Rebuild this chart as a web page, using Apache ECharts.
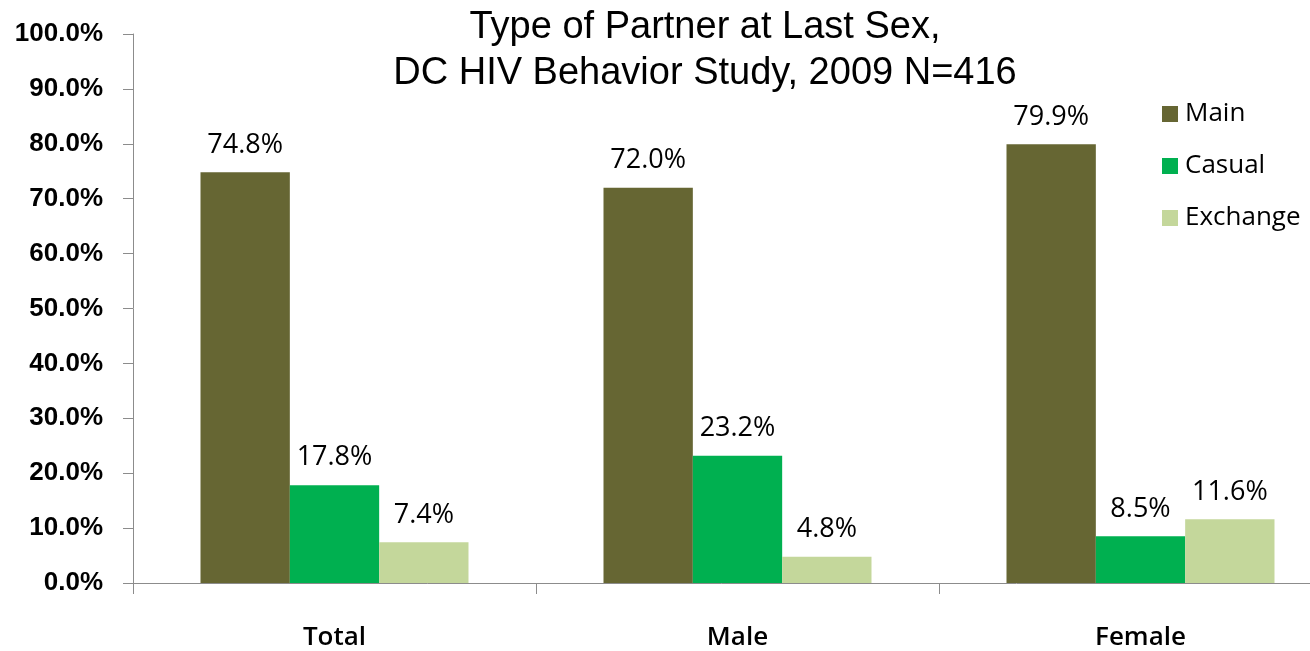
<!DOCTYPE html>
<html>
<head>
<meta charset="utf-8">
<script src="https://cdn.jsdelivr.net/npm/echarts@6/dist/echarts.min.js"></script>
<style>
  html, body { margin: 0; padding: 0; background: #fff; }
  #chart { width: 1310px; height: 651px; }
</style>
</head>
<body>
<div id="chart"></div>
<script>
// 数据
var categories = ['Total', 'Male', 'Female'];
var mainValues = [74.8, 72.0, 79.9];
var casualValues = [17.8, 23.2, 8.5];
var exchangeValues = [7.4, 4.8, 11.6];

var chart = echarts.init(document.getElementById('chart'));

var labelStyle = {
  show: true,
  position: 'top',
  distance: 14,
  fontFamily: 'Open Sans',
  fontSize: 27,
  color: '#000',
  formatter: function (p) { return p.value.toFixed(1) + '%'; }
};

var option = {
  animation: false,
  title: {
    text: 'Type of Partner at Last Sex,\nDC HIV Behavior Study, 2009 N=416',
    left: 700,
    top: 0,
    textAlign: 'center',
    textStyle: {
      fontFamily: 'Liberation Sans',
      fontWeight: 'normal',
      fontSize: 38,
      lineHeight: 46,
      color: '#000'
    }
  },
  legend: {
    orient: 'vertical',
    left: 1157,
    top: 96,
    itemWidth: 16,
    itemHeight: 16,
    itemGap: 26,
    icon: 'rect',
    textStyle: {
      fontFamily: 'Open Sans',
      fontSize: 26,
      lineHeight: 26,
      color: '#000',
      padding: [0, 0, 0, 2]
    },
    data: ['Main', 'Casual', 'Exchange']
  },
  // 绘图区超出画布右侧（原图被裁切）
  grid: {
    left: 133,
    width: 1209,
    top: 34,
    bottom: 68,
    outerBoundsMode: 'none',
    containLabel: false
  },
  xAxis: {
    type: 'category',
    data: categories,
    axisLine: { lineStyle: { color: '#8c8c8c', width: 1 } },
    axisTick: { show: true, length: 11, lineStyle: { color: '#8c8c8c' } },
    axisLabel: {
      margin: 42,
      fontFamily: 'Open Sans',
      fontWeight: 600,
      fontSize: 26,
      color: '#000'
    }
  },
  yAxis: {
    type: 'value',
    min: 0,
    max: 100,
    interval: 10,
    splitLine: { show: false },
    axisLine: { show: true, lineStyle: { color: '#8c8c8c', width: 1 } },
    axisTick: { show: true, length: 10, lineStyle: { color: '#8c8c8c' } },
    axisLabel: {
      margin: 30,
      fontFamily: 'Liberation Sans',
      fontWeight: 'bold',
      fontSize: 26,
      color: '#000',
      formatter: function (v) { return v.toFixed(1) + '%'; }
    }
  },
  series: [
    {
      name: 'Main',
      type: 'bar',
      data: mainValues,
      barGap: '0%',
      barCategoryGap: '33.5%',
      itemStyle: { color: '#666633' },
      label: labelStyle
    },
    {
      name: 'Casual',
      type: 'bar',
      data: casualValues,
      itemStyle: { color: '#00b050' },
      label: labelStyle
    },
    {
      name: 'Exchange',
      type: 'bar',
      data: exchangeValues,
      itemStyle: { color: '#c4d79b' },
      label: labelStyle
    }
  ]
};

chart.setOption(option);
</script>
</body>
</html>
